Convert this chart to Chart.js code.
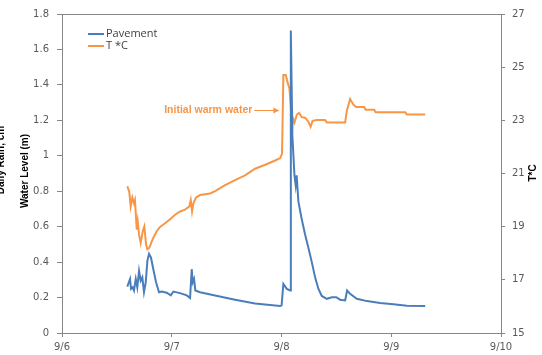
<!DOCTYPE html>
<html>
<head>
<meta charset="utf-8">
<script src="https://cdn.jsdelivr.net/npm/chart.js@4/dist/chart.umd.min.js"></script>
<style>
  html, body { margin: 0; padding: 0; background: #fff; }
  #wrap { width: 542px; height: 355px; position: relative; }
</style>
</head>
<body>
<div id="wrap"><canvas id="c" width="542" height="355"></canvas></div>
<script>
// Day labels on the x axis (day 0 = 9/6)
const dayLabels = ['9/6', '9/7', '9/8', '9/9', '9/10'];

// Pavement water level (m), time in days after 9/6 00:00
const pavementDays = [
  0.595, 0.620, 0.629, 0.644, 0.656, 0.672, 0.686, 0.702, 0.717, 0.732,
  0.747, 0.763, 0.778, 0.793, 0.811, 0.832, 0.857, 0.884, 0.909, 0.954,
  0.991, 1.015, 1.076, 1.137, 1.167, 1.182, 1.191, 1.203, 1.215, 1.258,
  1.395, 1.577, 1.759, 1.987, 2.001, 2.017, 2.048, 2.078, 2.085, 2.099,
  2.118, 2.129, 2.138, 2.154, 2.185, 2.215, 2.245, 2.276, 2.306, 2.336,
  2.367, 2.413, 2.459, 2.498, 2.534, 2.580, 2.598, 2.625, 2.686, 2.778,
  2.899, 3.020, 3.142, 3.309
];
const pavementLevel = [
  0.262, 0.305, 0.249, 0.258, 0.240, 0.305, 0.258, 0.351, 0.295, 0.314,
  0.230, 0.286, 0.407, 0.447, 0.425, 0.360, 0.286, 0.230, 0.234, 0.227,
  0.212, 0.234, 0.225, 0.212, 0.197, 0.360, 0.286, 0.305, 0.240, 0.230,
  0.212, 0.188, 0.166, 0.152, 0.156, 0.277, 0.249, 0.240, 1.707, 1.113,
  0.890, 0.834, 0.890, 0.741, 0.640, 0.556, 0.481, 0.400, 0.314, 0.250,
  0.209, 0.193, 0.202, 0.202, 0.188, 0.184, 0.240, 0.221, 0.193, 0.180,
  0.169, 0.162, 0.154, 0.152
];

// Water temperature (°C), same time base
const tempDays = [
  0.595, 0.613, 0.626, 0.641, 0.656, 0.665, 0.681, 0.690, 0.702, 0.717,
  0.736, 0.750, 0.766, 0.778, 0.796, 0.818, 0.839, 0.863, 0.893, 0.939,
  0.985, 1.030, 1.076, 1.121, 1.160, 1.173, 1.185, 1.197, 1.222, 1.258,
  1.349, 1.395, 1.486, 1.577, 1.668, 1.759, 1.851, 1.942, 1.988, 2.005,
  2.017, 2.039, 2.057, 2.072, 2.085, 2.094, 2.103, 2.118, 2.140, 2.160,
  2.185, 2.215, 2.245, 2.265, 2.283, 2.322, 2.397, 2.413, 2.580, 2.595,
  2.625, 2.655, 2.680, 2.753, 2.767, 2.844, 2.858, 3.127, 3.142, 3.309
];
const tempC = [
  20.52, 20.31, 19.76, 20.10, 19.88, 20.00, 18.89, 19.20, 18.70, 18.39,
  18.83, 19.01, 18.33, 18.15, 18.21, 18.45, 18.64, 18.83, 18.99, 19.13,
  19.28, 19.45, 19.57, 19.64, 19.76, 20.00, 19.57, 19.88, 20.10, 20.19,
  20.25, 20.34, 20.56, 20.75, 20.93, 21.18, 21.33, 21.49, 21.58, 21.75,
  24.71, 24.71, 24.40, 24.21, 23.53, 22.50, 23.10, 22.91, 23.22, 23.28,
  23.12, 23.10, 22.95, 22.76, 22.98, 23.01, 23.01, 22.92, 22.92, 23.35,
  23.80, 23.59, 23.50, 23.50, 23.40, 23.40, 23.30, 23.30, 23.22, 23.22
];

// Annotation anchor (arrow tip) in data units: day, °C
const noteText = 'Initial warm water';
const noteTip = { day: 1.98, temp: 23.40 };

const BLUE = '#4A7EBB';
const ORANGE = '#F79646';
const AXIS = '#868686';
const TEXT = '#595959';

const toPoints = (xs, ys) => xs.map((x, i) => ({ x: x, y: ys[i] }));

// Frame, axis titles, legend and callout drawn on the canvas
const decorations = {
  id: 'decorations',
  afterDraw(chart) {
    const ctx = chart.ctx;
    const a = chart.chartArea;
    ctx.save();
    // plot frame top line
    ctx.strokeStyle = AXIS;
    ctx.lineWidth = 1;
    ctx.beginPath();
    ctx.moveTo(a.left, a.top + 0.5);
    ctx.lineTo(a.right, a.top + 0.5);
    ctx.stroke();

    // axis titles
    ctx.fillStyle = '#000';
    ctx.font = 'bold 10px "Liberation Sans", Arial, sans-serif';
    ctx.textAlign = 'center';
    ctx.textBaseline = 'middle';
    const rot = (txt, x, y, ang) => {
      ctx.save();
      ctx.translate(x, y);
      ctx.rotate(ang);
      ctx.fillText(txt, 0, 0);
      ctx.restore();
    };
    rot('Water Level (m)', 25, 171, -Math.PI / 2);
    rot('Daily Rain, cm', 1, 160, -Math.PI / 2);
    rot('T*C', 533, 173, -Math.PI / 2);

    // legend
    const items = chart.data.datasets;
    ctx.font = '11px "Open Sans", sans-serif';
    ctx.textAlign = 'left';
    items.forEach((ds, i) => {
      const y = 34 + i * 12;
      ctx.strokeStyle = ds.borderColor;
      ctx.lineWidth = 2;
      ctx.beginPath();
      ctx.moveTo(88, y);
      ctx.lineTo(104, y);
      ctx.stroke();
      ctx.fillStyle = '#404040';
      ctx.fillText(ds.label, 106, y);
    });

    // callout with arrow
    const xs = chart.scales.x;
    const yr = chart.scales.yT;
    const tipX = xs.getPixelForValue(noteTip.day);
    const tipY = Math.round(yr.getPixelForValue(noteTip.temp)) + 0.5;
    ctx.strokeStyle = ORANGE;
    ctx.fillStyle = ORANGE;
    ctx.lineWidth = 1;
    ctx.beginPath();
    ctx.moveTo(tipX - 25, tipY);
    ctx.lineTo(tipX - 2, tipY);
    ctx.stroke();
    ctx.beginPath();
    ctx.moveTo(tipX, tipY);
    ctx.lineTo(tipX - 6, tipY - 3);
    ctx.lineTo(tipX - 6, tipY + 3);
    ctx.closePath();
    ctx.fill();
    ctx.font = 'bold 10.5px "Liberation Sans", Arial, sans-serif';
    ctx.textAlign = 'right';
    ctx.fillText(noteText, tipX - 27, tipY);
    ctx.restore();
  }
};

new Chart(document.getElementById('c'), {
  type: 'line',
  data: {
    datasets: [
      {
        label: 'Pavement',
        data: toPoints(pavementDays, pavementLevel),
        yAxisID: 'yL',
        borderColor: BLUE,
        backgroundColor: BLUE,
        borderWidth: 2,
        pointRadius: 0,
        tension: 0
      },
      {
        label: 'T *C',
        data: toPoints(tempDays, tempC),
        yAxisID: 'yT',
        borderColor: ORANGE,
        backgroundColor: ORANGE,
        borderWidth: 2,
        pointRadius: 0,
        tension: 0
      }
    ]
  },
  options: {
    responsive: false,
    animation: false,
    devicePixelRatio: 1,
    layout: { padding: { top: 10, left: 0, right: 0, bottom: 0 } },
    plugins: { legend: { display: false }, tooltip: { enabled: false } },
    scales: {
      x: {
        type: 'linear',
        min: 0,
        max: 4,
        afterFit: s => { s.height = 22; },
        border: { color: AXIS, width: 1 },
        grid: { drawOnChartArea: false, tickLength: 4, color: AXIS },
        ticks: {
          stepSize: 1,
          padding: 4,
          color: TEXT,
          font: { family: 'DejaVu Sans', size: 10 },
          maxRotation: 0,
          callback: v => dayLabels[v]
        }
      },
      yL: {
        position: 'left',
        min: 0,
        max: 1.8,
        afterFit: s => { s.width = 62; },
        border: { color: AXIS, width: 1 },
        grid: { drawOnChartArea: false, tickLength: 5, color: AXIS },
        ticks: {
          stepSize: 0.2,
          padding: 8,
          color: TEXT,
          font: { family: 'DejaVu Sans', size: 10 },
          callback: v => Number(v.toFixed(1)).toString()
        }
      },
      yT: {
        position: 'right',
        min: 15,
        max: 27,
        afterFit: s => { s.width = 41; },
        border: { color: AXIS, width: 1 },
        grid: { drawOnChartArea: false, tickLength: 4, color: AXIS },
        ticks: {
          stepSize: 2,
          padding: 7,
          color: TEXT,
          font: { family: 'DejaVu Sans', size: 10 }
        }
      }
    }
  },
  plugins: [decorations]
});
</script>
</body>
</html>
